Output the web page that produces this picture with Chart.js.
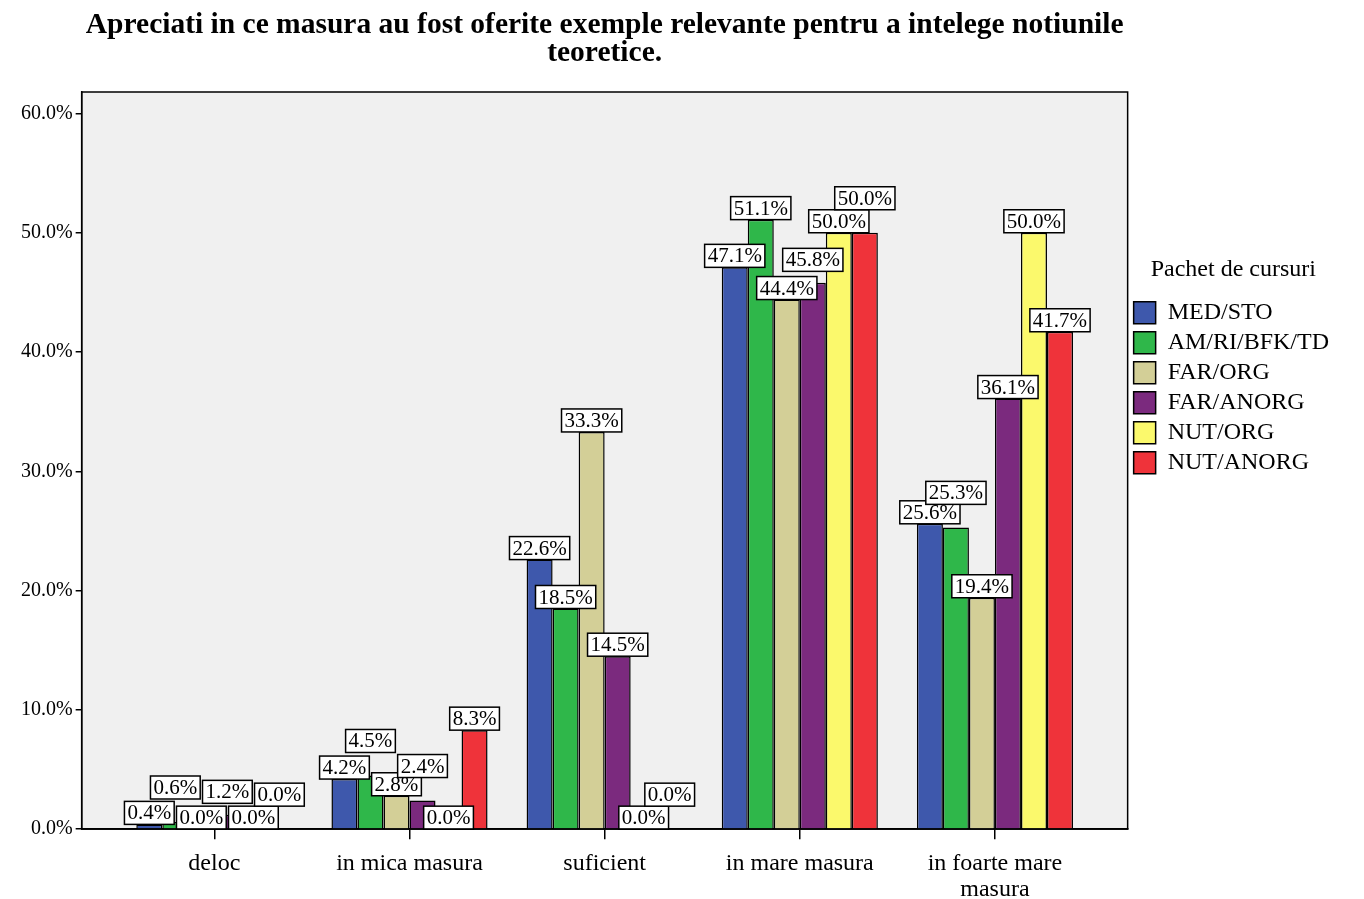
<!DOCTYPE html>
<html>
<head>
<meta charset="utf-8">
<script src="https://cdn.jsdelivr.net/npm/chart.js@4/dist/chart.umd.min.js"></script>
<style>
  html, body { margin: 0; padding: 0; background: #fff; }
  #wrap { width: 1364px; height: 899px; }
</style>
</head>
<body>
<div id="wrap"><canvas id="chart"></canvas></div>
<script>
const categories = ['deloc', 'in mica masura', 'suficient', 'in mare masura', ['in foarte mare', 'masura']]

const medSto = [0.4, 4.2, 22.6, 47.1, 25.6]
const amRiBfkTd = [0.6, 4.5, 18.5, 51.1, 25.3]
const farOrg = [0.0, 2.8, 33.3, 44.4, 19.4]
const farAnorg = [1.2, 2.4, 14.5, 45.8, 36.1]
const nutOrg = [0.0, 0.0, 0.0, 50.0, 50.0]
const nutAnorg = [0.0, 8.3, 0.0, 50.0, 41.7]

const yTicks = [0, 10, 20, 30, 40, 50, 60]

const titleLines = ['Apreciati in ce masura au fost oferite exemple relevante pentru a intelege notiunile', 'teoretice.']

const SERIF = '"Liberation Serif", "Times New Roman", serif'
const PAD = 0.18

// background + frame of the plot area
const plotFrame = {
  id: 'plotFrame',
  beforeDraw(chart) {
    const a = chart.chartArea
    const ctx = chart.ctx
    ctx.save()
    ctx.fillStyle = '#f0f0f0'
    ctx.fillRect(a.left, a.top, a.width, a.height)
    ctx.restore()
  },
  afterDraw(chart) {
    const a = chart.chartArea
    const ctx = chart.ctx
    ctx.save()
    ctx.strokeStyle = '#000'
    ctx.lineWidth = 1.5
    ctx.strokeRect(a.left, a.top, a.width, a.height)
    ctx.restore()
  }
}

// title centred over the plot area
const topTitle = {
  id: 'topTitle',
  afterDraw(chart) {
    const a = chart.chartArea
    const ctx = chart.ctx
    ctx.save()
    ctx.fillStyle = '#000'
    ctx.font = 'bold 29.5px ' + SERIF
    ctx.textAlign = 'center'
    ctx.textBaseline = 'middle'
    const cx = (a.left + a.right) / 2
    titleLines.forEach((t, i) => ctx.fillText(t, cx, 25 + i * 28))
    ctx.restore()
  }
}

// boxed value labels on top of each bar, nudged a bit when they collide
const valueBoxes = {
  id: 'valueBoxes',
  afterDatasetsDraw(chart) {
    const ctx = chart.ctx
    const bottom = chart.chartArea.bottom
    ctx.save()
    ctx.font = '21px ' + SERIF
    ctx.textAlign = 'center'
    ctx.textBaseline = 'middle'
    const h = 23
    const m = 5
    const boxes = []
    const hits = (b) => boxes.some(o => b.x < o.x + o.w - m && o.x < b.x + b.w - m && b.y < o.y + o.h - m && o.y < b.y + b.h - m)
    chart.data.labels.forEach((_, i) => {
      chart.data.datasets.forEach((ds, d) => {
        const bar = chart.getDatasetMeta(d).data[i]
        const text = ds.data[i].toFixed(1) + '%'
        const w = ctx.measureText(text).width + 6
        let pick = null
        for (const dy of [0, h / 2, -h / 2, -h]) {
          const b = { x: bar.x - w / 2, y: bar.y - h + dy, w: w, h: h, text: text, cx: bar.x }
          if (b.y + b.h > bottom) continue
          if (!hits(b)) { pick = b; break }
        }
        if (!pick) pick = { x: bar.x - w / 2, y: bar.y - h, w: w, h: h, text: text, cx: bar.x }
        boxes.push(pick)
      })
    })
    boxes.forEach(b => {
      ctx.fillStyle = '#fff'
      ctx.fillRect(b.x, b.y, b.w, b.h)
      ctx.strokeStyle = '#000'
      ctx.lineWidth = 1.5
      ctx.strokeRect(b.x, b.y, b.w, b.h)
      ctx.fillStyle = '#000'
      ctx.fillText(b.text, b.cx, b.y + b.h / 2 + 1)
    })
    ctx.restore()
  }
}

function series(label, data, color) {
  return {
    label: label,
    data: data,
    backgroundColor: color,
    borderColor: '#000',
    borderWidth: 1.5,
    categoryPercentage: 0.8,
    barPercentage: 1.0
  }
}

new Chart(document.getElementById('chart'), {
  type: 'bar',
  data: {
    labels: categories,
    datasets: [
      series('MED/STO', medSto, '#3e58ac'),
      series('AM/RI/BFK/TD', amRiBfkTd, '#2fb74a'),
      series('FAR/ORG', farOrg, '#d3cf97'),
      series('FAR/ANORG', farAnorg, '#7b2a7e'),
      series('NUT/ORG', nutOrg, '#fbf96c'),
      series('NUT/ANORG', nutAnorg, '#ef333a')
    ]
  },
  options: {
    responsive: true,
    maintainAspectRatio: false,
    animation: false,
    layout: { padding: { top: 92, left: 18, right: 25, bottom: -16 } },
    plugins: {
      title: { display: false },
      tooltip: { enabled: false },
      legend: {
        position: 'right',
        align: 'start',
        title: {
          display: true,
          text: 'Pachet de cursuri',
          color: '#000',
          font: { family: SERIF, size: 24 },
          padding: { top: 166, bottom: 8 }
        },
        labels: {
          color: '#000',
          font: { family: SERIF, size: 24 },
          boxWidth: 22,
          boxHeight: 22,
          padding: 6
        }
      }
    },
    scales: {
      x: {
        offset: true,
        afterBuildTicks(axis) {
          axis._startValue = -0.5 - PAD
          axis._valueRange = categories.length + 2 * PAD
        },
        grid: { offset: false, drawOnChartArea: false, color: '#000', lineWidth: 1.5, tickLength: 10 },
        border: { display: true, color: '#000', width: 1.5 },
        ticks: { color: '#000', font: { family: SERIF, size: 24, lineHeight: 1.08 }, padding: 12, maxRotation: 0, autoSkip: false }
      },
      y: {
        min: 0,
        max: 61.8,
        afterBuildTicks(axis) {
          axis.ticks = yTicks.map(v => ({ value: v }))
        },
        grid: { drawOnChartArea: false, color: '#000', lineWidth: 1.5, tickLength: 6 },
        border: { display: true, color: '#000', width: 1.5 },
        ticks: {
          color: '#000',
          font: { family: SERIF, size: 20 },
          padding: 3,
          callback: v => v.toFixed(1) + '%'
        }
      }
    }
  },
  plugins: [plotFrame, topTitle, valueBoxes]
})
</script>
</body>
</html>
